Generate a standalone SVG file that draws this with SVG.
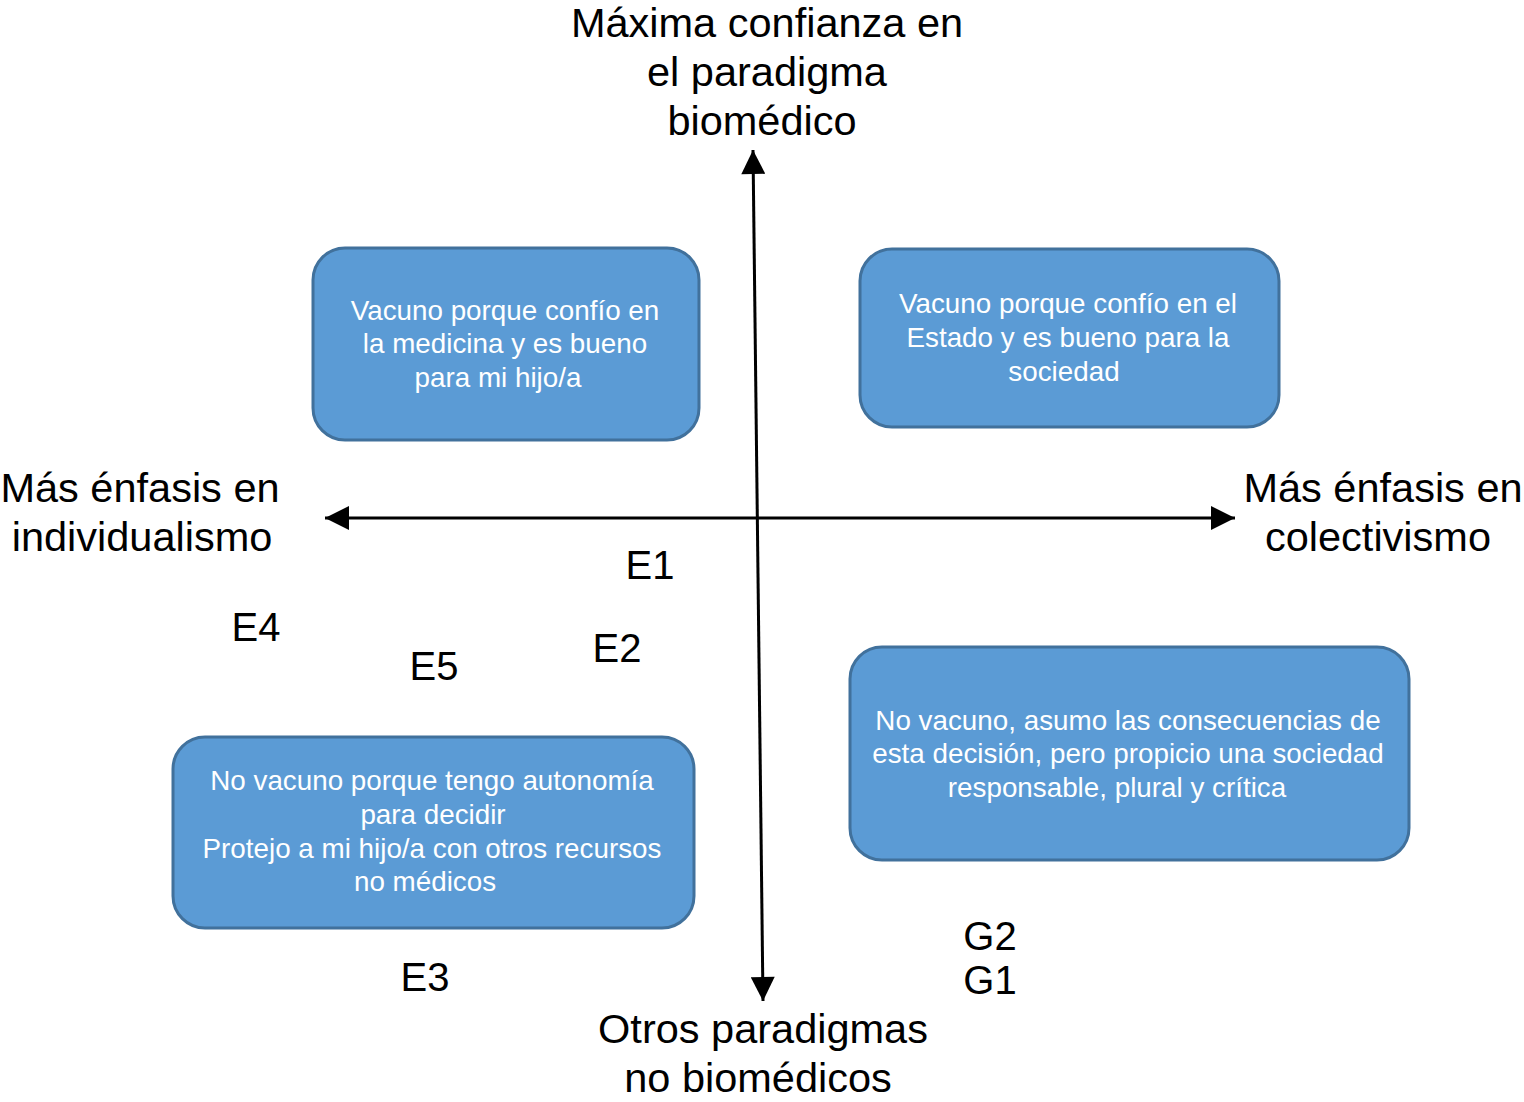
<svg xmlns="http://www.w3.org/2000/svg" width="1524" height="1102" viewBox="0 0 1524 1102">
<style>
.box{fill:#5B9BD5;stroke:#41719C;stroke-width:3}
.bt{font-family:"Liberation Sans",Arial,sans-serif;font-size:27.8px;fill:#fff;text-anchor:middle}
.lb{font-family:"Liberation Sans",Arial,sans-serif;font-size:41.5px;fill:#000;text-anchor:middle}
.pt{font-family:"Liberation Sans",Arial,sans-serif;font-size:40px;fill:#000;text-anchor:middle}
.ax{stroke:#000;stroke-width:3;fill:none}
</style>
<defs>
<marker id="ah" viewBox="0 0 10 10" refX="10" refY="5" markerUnits="userSpaceOnUse" markerWidth="28" markerHeight="24" orient="auto">
<path d="M0,0 L10,5 L0,10 Z" fill="#000"/>
</marker>
</defs>
<rect width="1524" height="1102" fill="#fff"/>
<g id="connectors">
<line class="ax" x1="757" y1="518" x2="325" y2="518" marker-end="url(#ah)"/>
<line class="ax" x1="757" y1="518" x2="1235" y2="518" marker-end="url(#ah)"/>
<line class="ax" x1="758" y1="575" x2="753" y2="150" marker-end="url(#ah)"/>
<line class="ax" x1="758" y1="575" x2="763" y2="1001" marker-end="url(#ah)"/>
</g>
<g id="box-tl">
<rect class="box" x="313" y="248" width="386" height="192" rx="32"/>
<text class="bt"><tspan x="505" y="320">Vacuno porque confío en</tspan><tspan x="505" y="353">la medicina y es bueno</tspan><tspan x="498" y="387">para mi hijo/a</tspan></text>
</g>
<g id="box-tr">
<rect class="box" x="860" y="249" width="419" height="178" rx="32"/>
<text class="bt"><tspan x="1068" y="313">Vacuno porque confío en el</tspan><tspan x="1068" y="347">Estado y es bueno para la</tspan><tspan x="1064" y="381">sociedad</tspan></text>
</g>
<g id="box-bl">
<rect class="box" x="173" y="737" width="521" height="191" rx="32"/>
<text class="bt"><tspan x="432" y="790">No vacuno porque tengo autonomía</tspan><tspan x="433" y="824">para decidir</tspan><tspan x="432" y="858">Protejo a mi hijo/a con otros recursos</tspan><tspan x="425" y="891">no médicos</tspan></text>
</g>
<g id="box-br">
<rect class="box" x="850" y="647" width="559" height="213" rx="32"/>
<text class="bt"><tspan x="1128" y="730">No vacuno, asumo las consecuencias de</tspan><tspan x="1128" y="763">esta decisión, pero propicio una sociedad</tspan><tspan x="1117" y="797">responsable, plural y crítica</tspan></text>
</g>
<g id="label-top">
<text class="lb"><tspan x="767" y="37">Máxima confianza en</tspan><tspan x="767" y="86">el paradigma</tspan><tspan x="762" y="135">biomédico</tspan></text>
</g>
<g id="label-bottom">
<text class="lb"><tspan x="763" y="1043">Otros paradigmas</tspan><tspan x="758" y="1092">no biomédicos</tspan></text>
</g>
<g id="label-left">
<text class="lb"><tspan x="140" y="502">Más énfasis en</tspan><tspan x="142" y="551">individualismo</tspan></text>
</g>
<g id="label-right">
<text class="lb"><tspan x="1383" y="502">Más énfasis en</tspan><tspan x="1378" y="551">colectivismo</tspan></text>
</g>
<g id="points">
<text class="pt" x="650" y="579">E1</text>
<text class="pt" x="256" y="641">E4</text>
<text class="pt" x="434" y="680">E5</text>
<text class="pt" x="617" y="662">E2</text>
<text class="pt" x="425" y="991">E3</text>
<text class="pt" x="990" y="950">G2</text>
<text class="pt" x="990" y="994">G1</text>
</g>
</svg>
